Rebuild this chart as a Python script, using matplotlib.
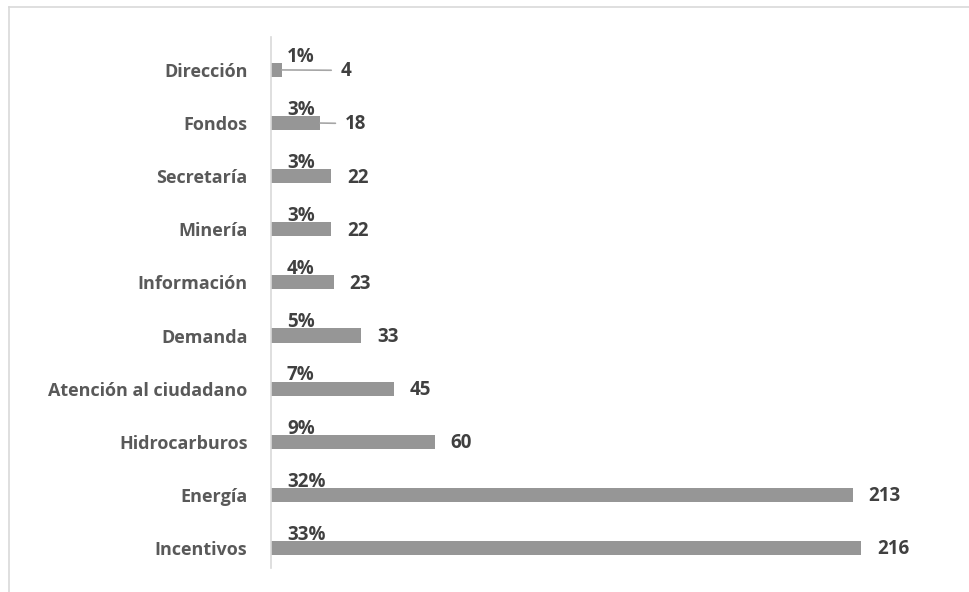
import matplotlib.pyplot as plt
from matplotlib.lines import Line2D

# datos (de abajo hacia arriba)
categorias = ["Incentivos", "Energía", "Hidrocarburos", "Atención al ciudadano",
              "Demanda", "Información", "Minería", "Secretaría", "Fondos", "Dirección"]
valores = [216, 213, 60, 45, 33, 23, 22, 22, 18, 4]
porcentajes = [33, 32, 9, 7, 5, 4, 3, 3, 3, 1]

# desplazamiento (pt) de la etiqueta de valor respecto al final de la barra
desplaz_normal = 11.5
desplaz_linea = {"Fondos": 18, "Dirección": 42.5}

BAR = "#969696"
TXT_CAT = "#595959"
TXT_VAL = "#404040"
FUENTE = "Open Sans"
TAM_CAT = 13
TAM_VAL = 13.5

fig = plt.figure(figsize=(9.7, 5.92), dpi=100)
ax = fig.add_axes([271 / 970, 24 / 592, (940 - 271) / 970, (568 - 37) / 592])

y = list(range(len(categorias)))
ax.barh(y, valores, height=0.265, color=BAR)

ax.set_xlim(0, 245)
ax.set_ylim(-0.377, 9.62)
ax.set_yticks(y)
ax.set_yticklabels(categorias, fontsize=TAM_CAT, fontweight="bold", color=TXT_CAT,
                   family=FUENTE)
ax.tick_params(axis="y", length=0, pad=17)
ax.set_xticks([])
for s in ["top", "right", "bottom"]:
    ax.spines[s].set_visible(False)
ax.spines["left"].set_color("#d9d9d9")
ax.spines["left"].set_linewidth(1.2)

for i, (cat, v, p) in enumerate(zip(categorias, valores, porcentajes)):
    # porcentaje encima de la barra
    ax.annotate(f"{p}%", xy=(0, i), xytext=(11.5, 9.5), textcoords="offset points",
                ha="left", va="center", fontsize=TAM_VAL, fontweight="bold",
                color=TXT_VAL, family=FUENTE)
    # valor a la derecha
    if cat in desplaz_linea:
        ax.annotate(str(v), xy=(v, i), xytext=(desplaz_linea[cat], -1),
                    textcoords="offset points", ha="left", va="center",
                    fontsize=TAM_VAL, fontweight="bold", color=TXT_VAL, family=FUENTE,
                    arrowprops=dict(arrowstyle="-", color="#a6a6a6", lw=1.2,
                                    relpos=(0, 0.55), shrinkA=5, shrinkB=0))
    else:
        ax.annotate(str(v), xy=(v, i), xytext=(desplaz_normal, -1),
                    textcoords="offset points", ha="left", va="center",
                    fontsize=TAM_VAL, fontweight="bold", color=TXT_VAL, family=FUENTE)

# borde del area del grafico (solo arriba e izquierda visibles)
fig.add_artist(Line2D([9 / 970, 1], [1 - 7 / 592, 1 - 7 / 592], color="#d9d9d9", lw=1.2))
fig.add_artist(Line2D([9 / 970, 9 / 970], [0, 1 - 7 / 592], color="#d9d9d9", lw=1.2))

fig.savefig("out.png", dpi=100)
